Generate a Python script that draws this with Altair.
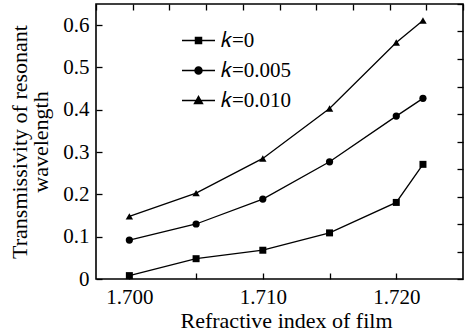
import altair as alt
import pandas as pd

# Refractive index of the film (x) and transmissivity at the resonant wavelength (y)
n_film = [1.700, 1.705, 1.710, 1.715, 1.720, 1.722]
t_k0 = [0.008, 0.048, 0.068, 0.109, 0.181, 0.271]
t_k005 = [0.092, 0.130, 0.189, 0.277, 0.385, 0.427]
t_k010 = [0.148, 0.203, 0.285, 0.403, 0.559, 0.611]
series_labels = ["\U0001D458=0", "\U0001D458=0.005", "\U0001D458=0.010"]

x_ticks = [1.700, 1.705, 1.710, 1.715, 1.720]
y_ticks = [0, 0.1, 0.2, 0.3, 0.4, 0.5, 0.6]

rows = []
for lab, vals in zip(series_labels, [t_k0, t_k005, t_k010]):
    for n, t in zip(n_film, vals):
        rows.append({"n": n, "t": t, "k": lab})
df = pd.DataFrame(rows)

FONT = "Liberation Serif"
x_scale = alt.Scale(domain=[1.6975, 1.725], nice=False, zero=False)
y_scale = alt.Scale(domain=[0, 0.65], nice=False)

x_enc = alt.X(
    "n:Q", scale=x_scale,
    axis=alt.Axis(
        values=x_ticks,
        labelExpr="round(datum.value*1000) % 10 == 0 ? format(datum.value, '.3f') : ''",
        offset=-6, tickSize=6, domain=False, grid=False, labelPadding=7,
        title="Refractive index of film", titlePadding=3, titleX=190,
    ),
)
y_enc = alt.Y(
    "t:Q", scale=y_scale,
    axis=alt.Axis(
        values=y_ticks,
        labelExpr="datum.value == 0 ? '0' : format(datum.value, '.1f')",
        offset=-6, tickSize=6, domain=False, grid=False, labelPadding=7,
        title=["Transmissivity of resonant", "wavelength"], titlePadding=10,
        titleLineHeight=21,
    ),
)

lines = alt.Chart(df).mark_line(color="black", strokeWidth=1.3).encode(
    x=x_enc, y=y_enc, detail="k:N"
)

points = alt.Chart(df).mark_point(filled=True, color="black", opacity=1).encode(
    x="n:Q", y="t:Q",
    shape=alt.Shape("k:N", scale=alt.Scale(domain=series_labels,
                                           range=["square", "circle", "triangle-up"]),
                    legend=None),
    size=alt.Size("k:N", scale=alt.Scale(domain=series_labels, range=[49, 55, 60]),
                  legend=None),
)


# Legend glyphs: a short line with a solid marker, drawn with strokes only
# (nested outlines close enough together to read as a filled marker).
def nested_square(h):
    parts = []
    s = h
    while s > 0.05:
        parts.append(f"M{-s:.2f},{-s:.2f}H{s:.2f}V{s:.2f}H{-s:.2f}Z")
        s -= 0.18
    return "".join(parts)


def nested_circle(r):
    parts = []
    while r > 0.05:
        parts.append(f"M{-r:.2f},0A{r:.2f},{r:.2f},0,1,0,{r:.2f},0"
                     f"A{r:.2f},{r:.2f},0,1,0,{-r:.2f},0Z")
        r -= 0.18
    return "".join(parts)


def nested_triangle(top, base, half):
    cy = (top + 2 * base) / 3
    parts = []
    f = 1.0
    while f > 0.08:
        t = cy + (top - cy) * f
        b = cy + (base - cy) * f
        w = half * f
        parts.append(f"M0,{t:.2f}L{w:.2f},{b:.2f}L{-w:.2f},{b:.2f}Z")
        f -= 0.22
    return "".join(parts)


stem = "M-3.3,0H3.3"
glyphs = [
    stem + nested_square(0.62),
    stem + nested_circle(0.72),
    stem + nested_triangle(-0.85, 0.62, 0.82),
]
legend_layer = alt.Chart(df).mark_point(
    filled=False, color="black", strokeWidth=1.3, opacity=0
).encode(
    x="n:Q", y="t:Q",
    shape=alt.Shape(
        "k:N", scale=alt.Scale(domain=series_labels, range=glyphs),
        legend=alt.Legend(
            title=None, orient="none", legendX=92, legendY=26, padding=0,
            symbolSize=100, symbolOpacity=1,
            symbolStrokeColor="black", symbolStrokeWidth=1.3,
            labelFont=FONT, labelFontSize=21, labelColor="black",
            labelOffset=12, rowPadding=8, labelLimit=200,
        ),
    ),
)

data_layer = alt.layer(lines, points, legend_layer).resolve_scale(
    shape="independent", size="independent"
)

# tick marks on the top and right edges of the frame
frame = pd.DataFrame({"u": [0], "v": [0]})
frame_ticks = alt.Chart(frame).mark_point(opacity=0).encode(
    x=alt.X("u:Q", scale=alt.Scale(domain=[0, 10], nice=False),
            axis=alt.Axis(orient="top", values=list(range(11)), labels=False,
                          domain=False, grid=False, tickSize=6, offset=-6, title=None)),
    y=alt.Y("v:Q", scale=alt.Scale(domain=[0, 10], nice=False),
            axis=alt.Axis(orient="right", values=list(range(11)), labels=False,
                          domain=False, grid=False, tickSize=6, offset=-6, title=None)),
)

chart = alt.layer(data_layer, frame_ticks).resolve_scale(
    x="independent", y="independent"
).properties(
    width=367, height=275,
    background="white",
    autosize=alt.AutoSizeParams(type="none"),
    padding={"left": 96, "top": 4, "right": 6, "bottom": 55},
).configure_view(
    stroke="black", strokeWidth=1.6
).configure_axis(
    labelFont=FONT, labelFontSize=21, labelColor="black",
    titleFont=FONT, titleFontSize=22, titleFontWeight="normal", titleColor="black",
    tickColor="black", tickWidth=1.3,
)

chart.save("out.html", embed_options={"renderer": "svg", "actions": False})
